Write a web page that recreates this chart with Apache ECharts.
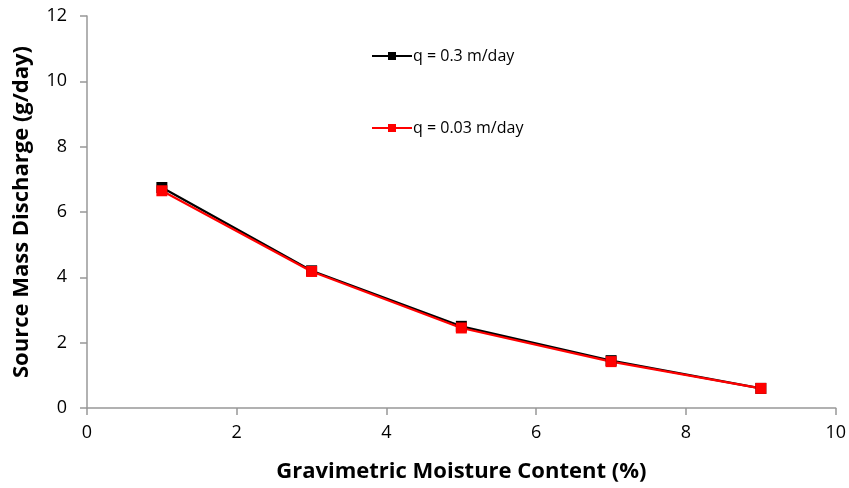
<!DOCTYPE html>
<html><head><meta charset="utf-8">
<script src="https://cdn.jsdelivr.net/npm/echarts@6/dist/echarts.min.js"></script>
<style>html,body{margin:0;padding:0;background:#fff}#c{width:849px;height:488px}</style>
</head><body><div id="c"></div>
<script>
const moisture = [1, 3, 5, 7, 9];
const q03 = [6.75, 4.2, 2.5, 1.45, 0.6];
const q003 = [6.65, 4.18, 2.45, 1.42, 0.6];
const seriesNames = ['q = 0.3 m/day', 'q = 0.03 m/day'];
const xTitle = 'Gravimetric Moisture Content (%)';
const yTitle = 'Source Mass Discharge (g/day)';

const chart = echarts.init(document.getElementById('c'));
const font = '"Open Sans", sans-serif';
const axisCommon = {
  axisLine: {show: true, lineStyle: {color: '#989898', width: 1.5}},
  axisTick: {show: true, length: 7, lineStyle: {color: '#989898', width: 1.5}},
  splitLine: {show: false},
  axisLabel: {color: '#000', fontSize: 18, fontFamily: font}
};
const legendText = {fontSize: 16, fontFamily: font, color: '#000', padding: [0,0,0,-4]};
chart.setOption({
  animation: false,
  grid: {left: 87, right: 13, top: 16, bottom: 80},
  legend: [
    {data: [seriesNames[0]], left: 366, top: 43, itemWidth: 40, itemHeight: 10, itemGap: 0, textStyle: legendText},
    {data: [seriesNames[1]], left: 366, top: 115, itemWidth: 40, itemHeight: 10, itemGap: 0, textStyle: legendText}
  ],
  xAxis: Object.assign({}, axisCommon, {
    type: 'value', min: 0, max: 10, interval: 2,
    name: xTitle, nameLocation: 'middle', nameGap: 53,
    nameTextStyle: {fontSize: 22, fontWeight: 'bold', fontFamily: font, color: '#000'},
    axisLabel: Object.assign({}, axisCommon.axisLabel, {margin: 16})
  }),
  yAxis: Object.assign({}, axisCommon, {
    type: 'value', min: 0, max: 12, interval: 2,
    name: yTitle, nameLocation: 'middle', nameGap: 54,
    nameTextStyle: {fontSize: 22, fontWeight: 'bold', fontFamily: font, color: '#000'},
    axisLabel: Object.assign({}, axisCommon.axisLabel, {margin: 20})
  }),
  series: [
    {name: seriesNames[0], type: 'line', data: moisture.map((x,i)=>[x,q03[i]]),
     symbol: 'rect', symbolSize: 11, itemStyle: {color: '#000'}, lineStyle: {color: '#000', width: 2.2}},
    {name: seriesNames[1], type: 'line', data: moisture.map((x,i)=>[x,q003[i]]),
     symbol: 'rect', symbolSize: 11, itemStyle: {color: '#ff0000'}, lineStyle: {color: '#ff0000', width: 2.2}}
  ]
});
</script></body></html>
